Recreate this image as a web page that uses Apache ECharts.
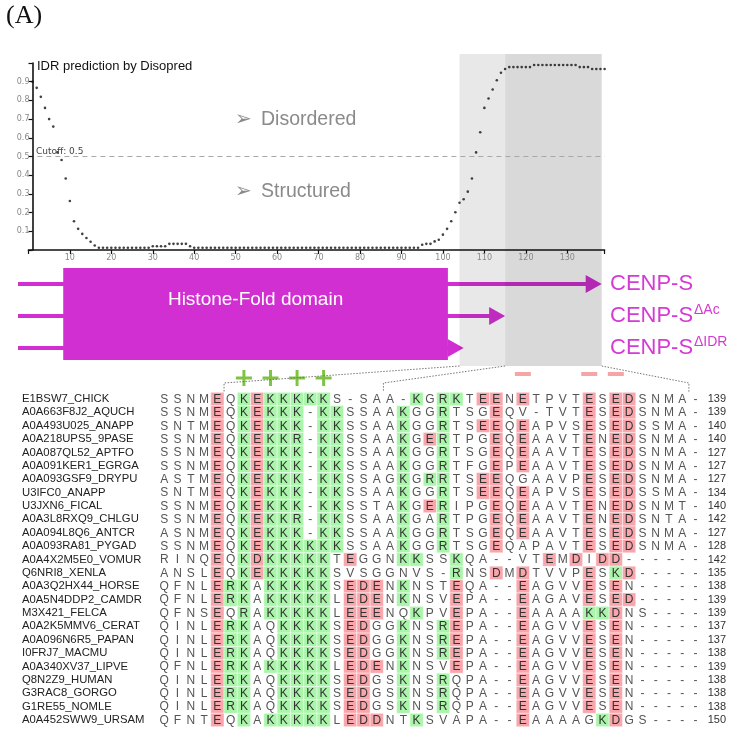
<!DOCTYPE html>
<html><head><meta charset="utf-8">
<script src="https://cdn.jsdelivr.net/npm/echarts@6/dist/echarts.min.js"></script>
<style>html,body{margin:0;padding:0;background:#fff}#c{width:729px;height:731px}</style>
</head><body><div id="c"></div>
<script>
// ---------- Disorder prediction (residues 1..139) ----------
const disorder = [
 0.900,0.867,0.819,0.760,0.700,0.660,0.522,0.481,0.382,0.262,
 0.154,0.113,0.086,0.064,0.044,0.024,0.012,0.012,0.012,0.012,
 0.012,0.012,0.012,0.012,0.012,0.012,0.012,0.012,0.012,0.020,
 0.020,0.020,0.020,0.033,0.033,0.033,0.033,0.033,0.020,0.012,
 0.012,0.012,0.012,0.012,0.012,0.012,0.012,0.012,0.012,0.012,
 0.012,0.012,0.012,0.012,0.012,0.012,0.012,0.012,0.012,0.012,
 0.012,0.012,0.012,0.012,0.012,0.012,0.012,0.012,0.012,0.012,
 0.012,0.012,0.012,0.012,0.012,0.012,0.012,0.012,0.012,0.012,
 0.012,0.012,0.012,0.012,0.012,0.012,0.012,0.012,0.012,0.012,
 0.012,0.012,0.012,0.012,0.028,0.033,0.033,0.046,0.055,0.082,
 0.113,0.154,0.202,0.253,0.271,0.312,0.382,0.522,0.630,0.760,
 0.810,0.858,0.908,0.948,0.968,0.978,0.978,0.978,0.978,0.978,
 0.978,0.989,0.989,0.989,0.989,0.989,0.989,0.989,0.989,0.989,
 0.989,0.989,0.978,0.978,0.978,0.968,0.968,0.968,0.968
];
const cutoff = 0.5;
const xTicks = [10,20,30,40,50,60,70,80,90,100,110,120,130];
const idrRange = [104, 115];       // light grey band (residues)
const acRange = [115, 138.3];      // dark grey band (residues)
const constructEnds = [138.3, 115, 105]; // CENP-S, ΔAc, ΔIDR
const domainRange = [8.4, 101.2];
const constructNames = ['CENP-S', 'CENP-S', 'CENP-S'];
const constructSup = ['', 'ΔAc', 'ΔIDR'];

// ---------- Alignment ----------
const seqNames = ["E1BSW7_CHICK","A0A663F8J2_AQUCH","A0A493U025_ANAPP","A0A218UPS5_9PASE","A0A087QL52_APTFO","A0A091KER1_EGRGA","A0A093GSF9_DRYPU","U3IFC0_ANAPP","U3JXN6_FICAL","A0A3L8RXQ9_CHLGU","A0A094L8Q6_ANTCR","A0A093RA81_PYGAD","A0A4X2M5E0_VOMUR","Q6NRI8_XENLA","A0A3Q2HX44_HORSE","A0A5N4DDP2_CAMDR","M3X421_FELCA","A0A2K5MMV6_CERAT","A0A096N6R5_PAPAN","I0FRJ7_MACMU","A0A340XV37_LIPVE","Q8N2Z9_HUMAN","G3RAC8_GORGO","G1RE55_NOMLE","A0A452SWW9_URSAM"];
const seqs = [
 "SSNMEQKEKKKKKS-SAA-KGRKTEENETPVTESEDSNMA-",
 "SSNMEQKEKKK-KKSSAAKGGRTSGEQV-TVTESEDSNMA-",
 "SNTMEQKEKKK-KKSSAAKGGRTSEEQEAPVSESEDSSMA-",
 "SSNMEQKEKKR-KKSSAAKGERTPGEQEAAVTENEDSNMA-",
 "SSNMEQKEKKK-KKSSAAKGGRTSGEQEAAVTESEDSNMA-",
 "SSNMEQKEKKK-KKSSAAKGGRTFGEPEAAVTESEDSNMA-",
 "ASTMEQKEKKK-KKSSAGKGRRTSEEQGAAVPESEDSNMA-",
 "SNTMEQKEKKK-KKSSAAKGGRTSEEQEAPVSESEDSSMA-",
 "SSNMEQKEKKK-KKSSTAKGERIPGEQEAAVTENEDSNMT-",
 "SSNMEQKEKKR-KKSSAAKGARTPGEQEAAVTENEDSNTA-",
 "ASNMEQKEKKK-KKSSAAKGGRTSGEQEAAVTESEDSNMA-",
 "SSNMEQKEKKKKKKSSAAKGGRTSGEQAPAVTESEDSNMA-",
 "RINQEQKDKKKKKTEGGNKKSSKQA--VTEMDIDD------",
 "ANSLEQKEKKKKKSVSGGNVS-RNSDMDTVVPESKD-----",
 "QFNLERKAKKKKKSEDENKNSTEQA--EAGVVESEN-----",
 "QFNLERKAKKKKKLEDENKNSVEPA--EAGAVESED-----",
 "QFNSEQRAKKKKKLEEENQKPVEPA--EAAAAKKDNS----",
 "QINLERKAQKKKKSEDGGKNSREPA--EAGVVESEN-----",
 "QINLERKAQKKKKSEDGGKNSREPA--EAGVVESEN-----",
 "QINLERKAQKKKKSEDGGKNSREPA--EAGVVESEN-----",
 "QFNLERKAKKKKKLEDENKNSVEPA--EAGVVESEN-----",
 "QINLERKAQKKKKSEDGSKNSRQPA--EAGVVESEN-----",
 "QINLERKAQKKKKSEDGSKNSRQPA--EAGVVESEN-----",
 "QINLERKAQKKKKSEDGSKNSRQPA--EAGVVESEN-----",
 "QFNTEQKAKKKKKLEDDNTKSVAPA--EAAAAGKDGS----"
];
// r = acidic (pink), g = basic (green), . = none
const shading = [
 "....r.grggggg......g.gg.rr.r....r.rr.....",
 "....r.grggg.gg....g..g...r......r.rr.....",
 "....r.grggg.gg....g..g..rr.r....r.rr.....",
 "....r.grggg.gg....g.rg...r.r....r.rr.....",
 "....r.grggg.gg....g..g...r.r....r.rr.....",
 "....r.grggg.gg....g..g...r.r....r.rr.....",
 "....r.grggg.gg....g.gg..rr......r.rr.....",
 "....r.grggg.gg....g..g..rr.r....r.rr.....",
 "....r.grggg.gg....g.rg...r.r....r.rr.....",
 "....r.grggg.gg....g..g...r.r....r.rr.....",
 "....r.grggg.gg....g..g...r.r....r.rr.....",
 "....r.grgggggg....g..g...r......r.rr.....",
 "....r.grggggg.r...gg..g......r.r.rr......",
 "....r.grggggg.........g..r.r....r.gr.....",
 "....rgg.ggggg.rrr.g...r....r....r.r......",
 "....rgg.ggggg.rrr.g...r....r....r.rr.....",
 "....r.g.ggggg.rrr..g..r....r....ggr......",
 "....rgg..gggg.rr..g..gr....r....r.r......",
 "....rgg..gggg.rr..g..gr....r....r.r......",
 "....rgg..gggg.rr..g..gr....r....r.r......",
 "....rgg.ggggg.rrr.g...r....r....r.r......",
 "....rgg..gggg.rr..g..g.....r....r.r......",
 "....rgg..gggg.rr..g..g.....r....r.r......",
 "....rgg..gggg.rr..g..g.....r....r.r......",
 "....r.g.ggggg.rrr..g.......r.....gr......"
];
const seqLengths = [139,139,140,140,127,127,127,134,140,142,127,128,142,135,138,139,139,137,137,138,139,138,138,138,150];
const plusCols = [7, 9, 11, 13];     // 1-based alignment columns
const minusCols = [28, 33, 35];
const zoomCols = [5, 17, 40];        // right edge of column reached by zoom lines

const nCols = seqs[0].length;
const colLabels = []; for (let i = 1; i <= nCols; i++) colLabels.push(String(i));
const cells = [];
seqs.forEach((s, r) => { for (let c = 0; c < s.length; c++) cells.push([c, r, s[c], shading[r][c]]); });
const marks = plusCols.map(c => [c - 1, 0, '+']).concat(minusCols.map(c => [c - 1, 0, '-']));

const MAG = '#d22fd2';
const chart = echarts.init(document.getElementById('c'));
const G1 = {left: 28.4, top: 63, width: 576.2, height: 187};
const G2 = {left: 157.6, top: 392.3, width: 547.8, height: 334.4};

chart.setOption({
  animation: false,
  grid: [
    Object.assign({}, G1, {containLabel: false}),
    Object.assign({}, G2, {containLabel: false})
  ],
  xAxis: [
    {type: 'value', gridIndex: 0, min: 0, max: 139, interval: 10, z: 10,
     axisLine: {lineStyle: {color: '#111', width: 1.6}},
     axisTick: {show: true, length: 4, lineStyle: {color: '#111', width: 1.2}},
     axisLabel: {fontSize: 8, color: '#888', fontFamily: 'DejaVu Sans', margin: 4,
                 formatter: v => xTicks.indexOf(v) >= 0 ? String(v) : ''},
     splitLine: {show: false}},
    {type: 'category', gridIndex: 1, data: colLabels, show: false, boundaryGap: true}
  ],
  yAxis: [
    {type: 'value', gridIndex: 0, min: 0, max: 1, interval: 0.1, offset: -4.1, z: 10,
     axisLine: {show: true, lineStyle: {color: '#111', width: 1.6}},
     axisTick: {show: true, length: 4, lineStyle: {color: '#111', width: 1.2}},
     axisLabel: {fontSize: 8, color: '#888', fontFamily: 'DejaVu Sans', margin: 3,
                 formatter: v => (v < 0.05 || v > 0.95) ? '' : v.toFixed(1)},
     splitLine: {show: false}},
    {type: 'category', gridIndex: 1, data: seqNames, inverse: true, boundaryGap: true,
     axisLine: {show: false}, axisTick: {show: false},
     axisLabel: {interval: 0, align: 'left', margin: G2.left - 22, fontSize: 11.3, color: '#222',
                 fontFamily: 'Liberation Sans, Arial', hideOverlap: false}},
    {type: 'category', gridIndex: 1, data: seqNames, inverse: true, position: 'right', boundaryGap: true,
     axisLine: {show: false}, axisTick: {show: false},
     axisLabel: {interval: 0, margin: 5.5, fontSize: 11, color: '#333', fontFamily: 'Liberation Sans, Arial',
                 hideOverlap: false, formatter: (v, i) => String(seqLengths[i])}}
  ],
  series: [
    {type: 'scatter', xAxisIndex: 0, yAxisIndex: 0, z: 5,
     data: disorder.map((v, i) => [i + 1, v]),
     symbolSize: 2.6, itemStyle: {color: '#111'},
     markLine: {silent: true, symbol: 'none', label: {show: false},
                lineStyle: {color: '#a8a8a8', type: [5, 4], width: 1},
                data: [{yAxis: cutoff}]}},
    {type: 'custom', xAxisIndex: 1, yAxisIndex: 1, clip: false, z: 3,
     data: cells,
     renderItem: function (params, api) {
       const p = api.coord([api.value(0), api.value(1)]);
       const sz = api.size([1, 1]);
       const d = cells[params.dataIndex];
       const ch = [];
       if (d[3] !== '.') {
         ch.push({type: 'rect', shape: {x: p[0] - sz[0] / 2, y: p[1] - sz[1] / 2, width: sz[0], height: sz[1]},
                  style: {fill: d[3] === 'r' ? '#f8a6ab' : '#a9f5a9', stroke: 'rgba(255,255,255,0.55)', lineWidth: 0.8}});
       }
       ch.push({type: 'text', x: p[0], y: p[1] + 0.5, style: {text: d[2], fill: d[3] === '.' ? '#555' : '#333',
                font: '12px "Liberation Sans", Arial', align: 'center', verticalAlign: 'middle'}});
       return {type: 'group', children: ch};
     }},
    {type: 'custom', xAxisIndex: 1, yAxisIndex: 1, clip: false, z: 3,
     data: marks,
     renderItem: function (params, api) {
       const p = api.coord([api.value(0), 0]);
       const m = marks[params.dataIndex];
       if (m[2] === '+') {
         const cy = p[1] - 21;
         return {type: 'group', children: [
           {type: 'rect', shape: {x: p[0] - 8, y: cy - 1.5, width: 16, height: 3}, style: {fill: '#80c342'}},
           {type: 'rect', shape: {x: p[0] - 1.5, y: cy - 8, width: 3, height: 16}, style: {fill: '#80c342'}}
         ]};
       }
       const cy = p[1] - 25;
       return {type: 'rect', shape: {x: p[0] - 8, y: cy - 2, width: 16, height: 4}, style: {fill: '#f5a5a5'}};
     }}
  ]
});

// ---------- annotations placed through the axes ----------
const px = v => chart.convertToPixel({xAxisIndex: 0}, v);
const colRight = c => chart.convertToPixel({xAxisIndex: 1}, c - 1) + G2.width / nCols / 2;
const greyTop = 54, greyBot = 366;
const graphics = [];
graphics.push({type: 'text', left: 6, top: 3, z: 20, style: {text: '(A)', font: '26px "Liberation Serif", "Times New Roman", serif', fill: '#111'}});
graphics.push({type: 'text', x: 37, y: 66, z: 20, style: {text: 'IDR prediction by Disopred', font: '13px "Liberation Sans", Arial', fill: '#111', verticalAlign: 'middle'}});
graphics.push({type: 'text', x: 36, y: 152, z: 20, style: {text: 'Cutoff: 0.5', font: '9px "DejaVu Sans"', fill: '#444', verticalAlign: 'middle'}});
[['Disordered', 119.5], ['Structured', 191.5]].forEach(t => {
  graphics.push({type: 'text', x: 235, y: t[1], z: 20, style: {text: '➢', font: '20px "DejaVu Sans"', fill: '#8a8a8a', verticalAlign: 'middle'}});
  graphics.push({type: 'text', x: 261, y: t[1], z: 20, style: {text: t[0], font: '19.5px "Liberation Sans", Arial', fill: '#8a8a8a', verticalAlign: 'middle'}});
});
// grey bands (over arrows, under points)
graphics.push({type: 'rect', z: 2, shape: {x: px(idrRange[0]), y: greyTop, width: px(idrRange[1]) - px(idrRange[0]), height: greyBot - greyTop}, style: {fill: 'rgba(0,0,0,0.09)'}});
graphics.push({type: 'rect', z: 2, shape: {x: px(acRange[0]), y: greyTop, width: px(acRange[1]) - px(acRange[0]), height: greyBot - greyTop}, style: {fill: 'rgba(10,0,10,0.15)'}});
// domain box
graphics.push({type: 'rect', z: 1, shape: {x: px(domainRange[0]), y: 268, width: px(domainRange[1]) - px(domainRange[0]), height: 92}, style: {fill: MAG}});
graphics.push({type: 'text', x: (px(domainRange[0]) + px(domainRange[1])) / 2, y: 300, z: 3,
  style: {text: 'Histone-Fold domain', font: '19px "Liberation Sans", Arial', fill: '#fff', align: 'center', verticalAlign: 'middle'}});
// construct arrows
const arrowY = [284, 316, 348];
constructEnds.forEach((e, i) => {
  const tip = px(e), y = arrowY[i];
  graphics.push({type: 'rect', z: 1, shape: {x: 18, y: y - 2, width: tip - 15 - 18, height: 4}, style: {fill: MAG}});
  graphics.push({type: 'polygon', z: 1, shape: {points: [[tip - 16, y - 9], [tip, y], [tip - 16, y + 9]]}, style: {fill: MAG}});
  graphics.push({type: 'text', x: 610, y: y, z: 20, style: {text: constructNames[i], font: '22px "Liberation Sans", Arial', fill: '#d43ad4', verticalAlign: 'middle'}});
  if (constructSup[i]) graphics.push({type: 'text', x: 694, y: y - 6, z: 20, style: {text: constructSup[i], font: '14px "Liberation Sans", Arial', fill: '#d43ad4', verticalAlign: 'middle'}});
});
// zoom lines from the grey bands to the alignment
const zoomStarts = [idrRange[0], idrRange[1], acRange[1]];
zoomStarts.forEach((s, i) => {
  const xe = colRight(zoomCols[i]);
  graphics.push({type: 'polyline', z: 20, shape: {points: [[px(s), greyBot], [xe, 383], [xe, 392]]},
    style: {stroke: '#666', lineWidth: 0.9, lineDash: [1.5, 1.5], fill: null}});
});
chart.setOption({graphic: graphics});
</script></body></html>
